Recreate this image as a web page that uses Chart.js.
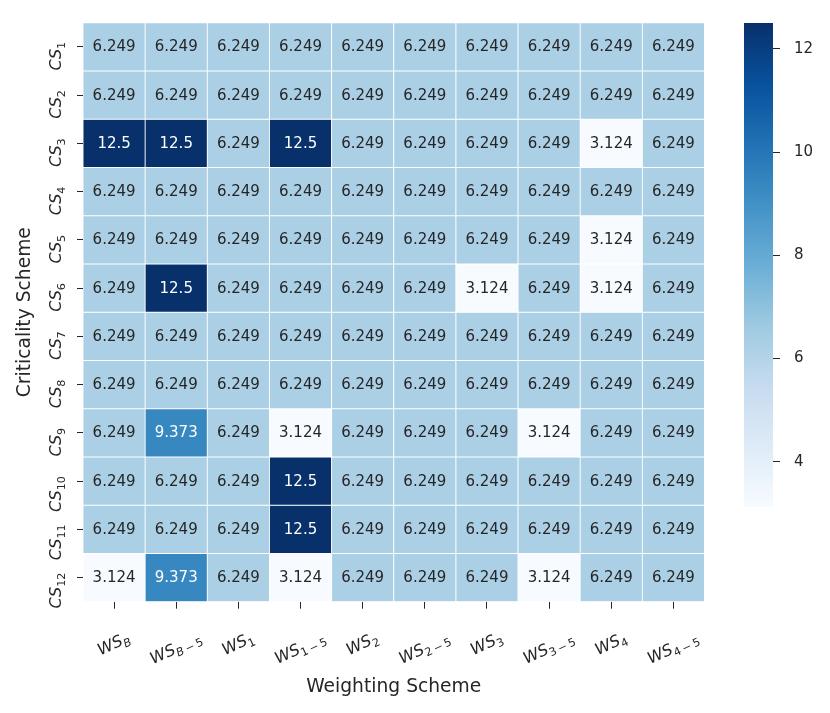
<!DOCTYPE html>
<html>
<head>
<meta charset="utf-8">
<script src="https://cdn.jsdelivr.net/npm/chart.js@4/dist/chart.umd.min.js"></script>
<style>
html,body{margin:0;padding:0;background:#ffffff;}
#wrap{position:relative;width:830px;height:713px;}
canvas{position:absolute;left:0;top:0;}
</style>
</head>
<body>
<div id="wrap">
<canvas id="heat" width="830" height="713"></canvas>
<canvas id="cbar" width="830" height="713"></canvas>
</div>
<script>
// ---------- data ----------
const rowLabelBase = 'CS';
const rowSubs = ['1','2','3','4','5','6','7','8','9','10','11','12'];
const colLabelBase = 'WS';
const colSubs = ['B','B−5','1','1−5','2','2−5','3','3−5','4','4−5'];

const cs1  = [6.249, 6.249, 6.249, 6.249, 6.249, 6.249, 6.249, 6.249, 6.249, 6.249];
const cs2  = [6.249, 6.249, 6.249, 6.249, 6.249, 6.249, 6.249, 6.249, 6.249, 6.249];
const cs3  = [12.5, 12.5, 6.249, 12.5, 6.249, 6.249, 6.249, 6.249, 3.124, 6.249];
const cs4  = [6.249, 6.249, 6.249, 6.249, 6.249, 6.249, 6.249, 6.249, 6.249, 6.249];
const cs5  = [6.249, 6.249, 6.249, 6.249, 6.249, 6.249, 6.249, 6.249, 3.124, 6.249];
const cs6  = [6.249, 12.5, 6.249, 6.249, 6.249, 6.249, 3.124, 6.249, 3.124, 6.249];
const cs7  = [6.249, 6.249, 6.249, 6.249, 6.249, 6.249, 6.249, 6.249, 6.249, 6.249];
const cs8  = [6.249, 6.249, 6.249, 6.249, 6.249, 6.249, 6.249, 6.249, 6.249, 6.249];
const cs9  = [6.249, 9.373, 6.249, 3.124, 6.249, 6.249, 6.249, 3.124, 6.249, 6.249];
const cs10 = [6.249, 6.249, 6.249, 12.5, 6.249, 6.249, 6.249, 6.249, 6.249, 6.249];
const cs11 = [6.249, 6.249, 6.249, 12.5, 6.249, 6.249, 6.249, 6.249, 6.249, 6.249];
const cs12 = [3.124, 9.373, 6.249, 3.124, 6.249, 6.249, 6.249, 3.124, 6.249, 6.249];
const rowsData = [cs1, cs2, cs3, cs4, cs5, cs6, cs7, cs8, cs9, cs10, cs11, cs12];

const xTitle = 'Weighting Scheme';
const yTitle = 'Criticality Scheme';
const vmin = 3.124;
const vmax = 12.5;
const cbTicks = [4, 6, 8, 10, 12];
const bluesStops = ['#f7fbff','#deebf7','#c6dbef','#9ecae1','#6baed6','#4292c6','#2171b5','#08519c','#08306b'];

// ---------- helpers ----------
const FAMILY = '"DejaVu Sans", "Liberation Sans", sans-serif';
const TEXT = '#262626';
const TICK_SIZE = 16;
const ANNOT_SIZE = 15;

function hexToRgb(h){return [parseInt(h.slice(1,3),16),parseInt(h.slice(3,5),16),parseInt(h.slice(5,7),16)];}
function colorFor(v){
  let t = (v - vmin) / (vmax - vmin);
  t = Math.max(0, Math.min(1, t));
  const n = bluesStops.length - 1;
  const p = t * n;
  const i = Math.min(Math.floor(p), n - 1);
  const f = p - i;
  const a = hexToRgb(bluesStops[i]), b = hexToRgb(bluesStops[i+1]);
  const c = a.map((x, k) => Math.round(x + (b[k] - x) * f));
  return 'rgb(' + c.join(',') + ')';
}
function segs(base, sub){
  const out = [{t: base, it: true, sub: false}];
  let cur = null;
  for (const ch of sub.replace('−', '\u2009−\u2009')) {
    const it = /[A-Za-z]/.test(ch);
    if (cur && cur.it === it) cur.t += ch; else { cur = {t: ch, it: it, sub: true}; out.push(cur); }
  }
  return out;
}
function fontFor(s, size){ return (s.it ? 'italic ' : '') + (s.sub ? size * 0.7 : size) + 'px ' + FAMILY; }
function measureSegs(ctx, ss, size){ let w = 0; for (const s of ss){ ctx.font = fontFor(s, size); w += ctx.measureText(s.t).width; } return w; }
function drawSegs(ctx, ss, size, x0, y0){
  let x = x0;
  for (const s of ss){
    ctx.font = fontFor(s, size);
    ctx.fillText(s.t, x, y0 + (s.sub ? size * 0.23 : 0));
    x += ctx.measureText(s.t).width;
  }
}

// ---------- heatmap ----------
const datasets = rowsData.map((row, r) => ({
  label: rowLabelBase + rowSubs[r],
  data: row.map(() => [r, r + 1]),
  values: row,
  backgroundColor: row.map(colorFor),
  borderColor: '#ffffff',
  borderWidth: 0.8,
  borderSkipped: false,
  barPercentage: 1,
  categoryPercentage: 1
}));

const labelPlugin = {
  id: 'heatLabels',
  afterDatasetsDraw(chart){
    const ctx = chart.ctx;
    const xs = chart.scales.x, ys = chart.scales.y;
    ctx.save();
    ctx.textAlign = 'center';
    ctx.textBaseline = 'alphabetic';
    ctx.font = ANNOT_SIZE + 'px ' + FAMILY;
    rowsData.forEach((row, r) => {
      const cy = ys.getPixelForValue(r + 0.5);
      row.forEach((v, c) => {
        const cx = xs.getPixelForValue(c);
        ctx.fillStyle = v > 8 ? '#ffffff' : TEXT;
        ctx.fillText(String(v), cx, cy + 4.5);
      });
    });
    ctx.restore();
  },
  afterDraw(chart){
    const ctx = chart.ctx;
    const xs = chart.scales.x, ys = chart.scales.y;
    ctx.save();
    ctx.fillStyle = TEXT;
    ctx.textAlign = 'left';
    ctx.textBaseline = 'alphabetic';
    // y tick labels (rotated 90deg)
    rowSubs.forEach((sub, i) => {
      const ty = ys.getPixelForValue(i + 0.5);
      const ss = segs(rowLabelBase, sub);
      const w = measureSegs(ctx, ss, TICK_SIZE);
      ctx.save();
      ctx.translate(61, ty - 5);
      ctx.rotate(-Math.PI / 2);
      drawSegs(ctx, ss, TICK_SIZE, -w, 0);
      ctx.restore();
    });
    // x tick labels (rotated 25deg)
    const ang = 25 * Math.PI / 180;
    const H = 15;
    colSubs.forEach((sub, j) => {
      const tx = xs.getPixelForValue(j);
      const ss = segs(colLabelBase, sub);
      const w = measureSegs(ctx, ss, TICK_SIZE);
      const bh = w * Math.sin(ang) + H * Math.cos(ang);
      const cy = 631 + bh / 2;
      ctx.save();
      ctx.translate(tx, cy);
      ctx.rotate(-ang);
      drawSegs(ctx, ss, TICK_SIZE, -w / 2, 3.8);
      ctx.restore();
    });
    ctx.restore();
  }
};

new Chart(document.getElementById('heat'), {
  type: 'bar',
  data: { labels: colSubs.map(s => colLabelBase + s), datasets: datasets },
  options: {
    responsive: false,
    animation: false,
    devicePixelRatio: 1,
    layout: { padding: { left: 13.8, top: 22.7, right: 125.5, bottom: 14.8 } },
    plugins: { legend: { display: false }, tooltip: { enabled: false } },
    scales: {
      x: {
        type: 'category',
        stacked: true,
        offset: true,
        grid: { display: true, offset: false, drawOnChartArea: false, drawTicks: true, tickLength: 7, color: TEXT, lineWidth: 1 },
        border: { display: false },
        ticks: { display: false },
        title: { display: true, text: xTitle, color: TEXT, font: { family: FAMILY, size: 18.7 }, padding: 0 },
        afterFit: s => { s.height = 96.5; }
      },
      y: {
        type: 'linear',
        min: 0,
        max: rowSubs.length,
        reverse: true,
        stacked: false,
        afterBuildTicks: s => { s.ticks = rowSubs.map((_, i) => ({ value: i + 0.5 })); },
        grid: { display: true, drawOnChartArea: false, drawTicks: true, tickLength: 6, color: TEXT, lineWidth: 1 },
        border: { display: false },
        ticks: { display: false },
        title: { display: true, text: yTitle, color: TEXT, font: { family: FAMILY, size: 18.7 }, padding: 0 },
        afterFit: s => { s.width = 69.2; }
      }
    }
  },
  plugins: [labelPlugin]
});

// ---------- colorbar ----------
new Chart(document.getElementById('cbar'), {
  type: 'bar',
  data: {
    labels: [''],
    datasets: [{
      data: [[vmin, vmax]],
      backgroundColor: (c) => {
        const a = c.chart.chartArea;
        if (!a) return bluesStops[4];
        const g = c.chart.ctx.createLinearGradient(0, a.bottom, 0, a.top);
        bluesStops.forEach((s, i) => g.addColorStop(i / (bluesStops.length - 1), s));
        return g;
      },
      borderWidth: 0,
      barPercentage: 1,
      categoryPercentage: 1
    }]
  },
  options: {
    responsive: false,
    animation: false,
    devicePixelRatio: 1,
    layout: { padding: { left: 744, top: 19, bottom: 206, right: 7 } },
    plugins: { legend: { display: false }, tooltip: { enabled: false } },
    scales: {
      x: { display: false },
      y: {
        position: 'right',
        min: vmin,
        max: vmax,
        afterBuildTicks: s => { s.ticks = cbTicks.map(v => ({ value: v })); },
        grid: { display: true, drawOnChartArea: false, drawTicks: true, tickLength: 7, color: TEXT, lineWidth: 1 },
        border: { display: false },
        ticks: { padding: 14, color: TEXT, font: { family: FAMILY, size: 15 } },
        afterFit: s => { s.width = 50; }
      }
    }
  }
});
</script>
</body>
</html>
